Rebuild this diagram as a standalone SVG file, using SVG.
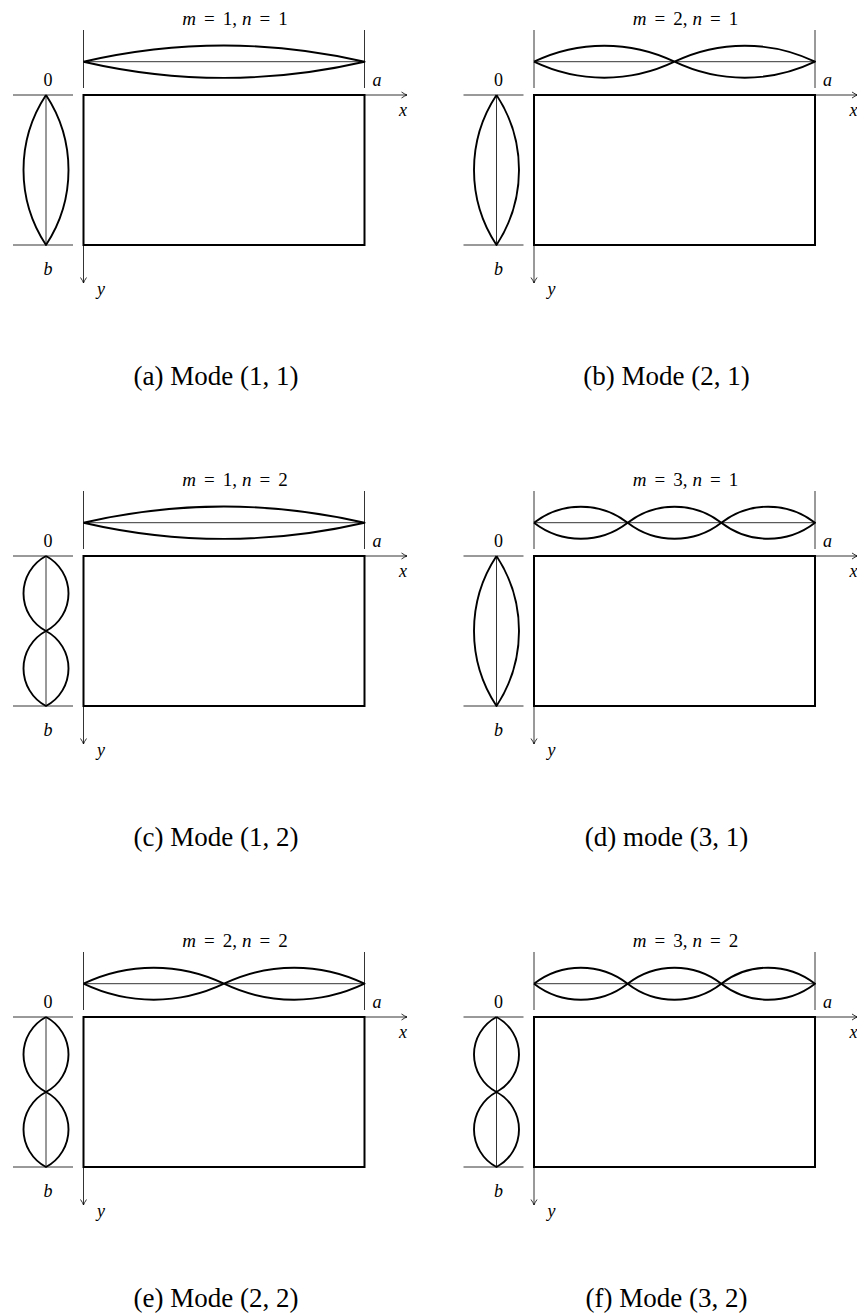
<svg xmlns="http://www.w3.org/2000/svg" width="857" height="1315" viewBox="0 0 857 1315">
<style>
.plate{fill:none;stroke:#000;stroke-width:2}
.wave{fill:none;stroke:#000;stroke-width:1.9;stroke-linejoin:round}
.thin{fill:none;stroke:#000;stroke-width:0.8}
.axis{fill:none;stroke:#000;stroke-width:0.8}
.lbl{font-family:"Liberation Serif","Times New Roman",serif;font-size:18px;fill:#000}
.it{font-style:italic}
.ttl{font-family:"Liberation Serif","Times New Roman",serif;font-size:19px;fill:#000;text-anchor:middle}
.cap{font-family:"Liberation Serif","Times New Roman",serif;font-size:27px;fill:#000;text-anchor:middle}
</style>
<defs>
<marker id="arr" viewBox="-7 -4 8 8" markerWidth="8" markerHeight="8" refX="0" refY="0" orient="auto" markerUnits="userSpaceOnUse">
<path d="M-5.5,-3 Q-2,-0.6 0,0 Q-2,0.6 -5.5,3" fill="none" stroke="#000" stroke-width="0.8"/>
</marker>
<g id="frame">
<line class="thin" x1="83.5" y1="30" x2="83.5" y2="88"/>
<line class="thin" x1="364.5" y1="30" x2="364.5" y2="88"/>
<line class="thin" x1="83.5" y1="61.7" x2="364.5" y2="61.7"/>
<line class="thin" x1="13" y1="95" x2="73" y2="95"/>
<line class="thin" x1="13" y1="245" x2="73" y2="245"/>
<line class="thin" x1="46" y1="95" x2="46" y2="245"/>
<rect class="plate" x="83.5" y="95" width="281" height="150"/>
<text class="lbl" x="48" y="86" text-anchor="middle">0</text>
<text class="lbl it" x="377" y="86" text-anchor="middle">a</text>
<text class="lbl it" x="403" y="116" text-anchor="middle">x</text>
<text class="lbl it" x="48" y="275" text-anchor="middle">b</text>
<text class="lbl it" x="101" y="295" text-anchor="middle">y</text>
</g>
<path id="m1" class="wave" d="M83.5,61.7 A624.9,624.9 0 0 1 364.5,61.7 A624.9,624.9 0 0 1 83.5,61.7"/>
<path id="m2" class="wave" d="M83.5,61.7 A162.2,162.2 0 0 1 224,61.7 A162.2,162.2 0 0 1 364.5,61.7 A162.2,162.2 0 0 1 224,61.7 A162.2,162.2 0 0 1 83.5,61.7"/>
<path id="m3" class="wave" d="M83.5,61.7 A76.5,76.5 0 0 1 177.17,61.7 A76.5,76.5 0 0 1 270.83,61.7 A76.5,76.5 0 0 1 364.5,61.7 A76.5,76.5 0 0 1 270.83,61.7 A76.5,76.5 0 0 1 177.17,61.7 A76.5,76.5 0 0 1 83.5,61.7"/>
<path id="n1" class="wave" d="M46,95 A136.25,136.25 0 0 1 46,245 A136.25,136.25 0 0 1 46,95"/>
<path id="n2" class="wave" d="M46,95 A42.5,42.5 0 0 1 46,170 A42.5,42.5 0 0 1 46,245 A42.5,42.5 0 0 1 46,170 A42.5,42.5 0 0 1 46,95"/>
</defs>

<g id="panel-a">
<use href="#frame"/><use href="#m1"/><use href="#n1"/>
<text class="ttl" x="235" y="25"><tspan class="it">m</tspan><tspan dx="8">=</tspan><tspan dx="8">1,</tspan><tspan dx="5" class="it">n</tspan><tspan dx="8">=</tspan><tspan dx="8">1</tspan></text>
<text class="cap" x="216" y="385">(a) Mode (1, 1)</text>
</g>
<g id="panel-b" transform="translate(450.5,0)">
<use href="#frame"/><use href="#m2"/><use href="#n1"/>
<text class="ttl" x="235" y="25"><tspan class="it">m</tspan><tspan dx="8">=</tspan><tspan dx="8">2,</tspan><tspan dx="5" class="it">n</tspan><tspan dx="8">=</tspan><tspan dx="8">1</tspan></text>
<text class="cap" x="216" y="385">(b) Mode (2, 1)</text>
</g>
<g id="panel-c" transform="translate(0,461)">
<use href="#frame"/><use href="#m1"/><use href="#n2"/>
<text class="ttl" x="235" y="25"><tspan class="it">m</tspan><tspan dx="8">=</tspan><tspan dx="8">1,</tspan><tspan dx="5" class="it">n</tspan><tspan dx="8">=</tspan><tspan dx="8">2</tspan></text>
<text class="cap" x="216" y="385">(c) Mode (1, 2)</text>
</g>
<g id="panel-d" transform="translate(450.5,461)">
<use href="#frame"/><use href="#m3"/><use href="#n1"/>
<text class="ttl" x="235" y="25"><tspan class="it">m</tspan><tspan dx="8">=</tspan><tspan dx="8">3,</tspan><tspan dx="5" class="it">n</tspan><tspan dx="8">=</tspan><tspan dx="8">1</tspan></text>
<text class="cap" x="216" y="385">(d) mode (3, 1)</text>
</g>
<g id="panel-e" transform="translate(0,922)">
<use href="#frame"/><use href="#m2"/><use href="#n2"/>
<text class="ttl" x="235" y="25"><tspan class="it">m</tspan><tspan dx="8">=</tspan><tspan dx="8">2,</tspan><tspan dx="5" class="it">n</tspan><tspan dx="8">=</tspan><tspan dx="8">2</tspan></text>
<text class="cap" x="216" y="385">(e) Mode (2, 2)</text>
</g>
<g id="panel-f" transform="translate(450.5,922)">
<use href="#frame"/><use href="#m3"/><use href="#n2"/>
<text class="ttl" x="235" y="25"><tspan class="it">m</tspan><tspan dx="8">=</tspan><tspan dx="8">3,</tspan><tspan dx="5" class="it">n</tspan><tspan dx="8">=</tspan><tspan dx="8">2</tspan></text>
<text class="cap" x="216" y="385">(f) Mode (3, 2)</text>
</g>

<g id="connectors">
<g id="axes-a"><line class="axis" x1="364.5" y1="95" x2="407" y2="95" marker-end="url(#arr)"/><line class="axis" x1="83.5" y1="245" x2="83.5" y2="283" marker-end="url(#arr)"/></g>
<g id="axes-b" transform="translate(450.5,0)"><line class="axis" x1="364.5" y1="95" x2="407" y2="95" marker-end="url(#arr)"/><line class="axis" x1="83.5" y1="245" x2="83.5" y2="283" marker-end="url(#arr)"/></g>
<g id="axes-c" transform="translate(0,461)"><line class="axis" x1="364.5" y1="95" x2="407" y2="95" marker-end="url(#arr)"/><line class="axis" x1="83.5" y1="245" x2="83.5" y2="283" marker-end="url(#arr)"/></g>
<g id="axes-d" transform="translate(450.5,461)"><line class="axis" x1="364.5" y1="95" x2="407" y2="95" marker-end="url(#arr)"/><line class="axis" x1="83.5" y1="245" x2="83.5" y2="283" marker-end="url(#arr)"/></g>
<g id="axes-e" transform="translate(0,922)"><line class="axis" x1="364.5" y1="95" x2="407" y2="95" marker-end="url(#arr)"/><line class="axis" x1="83.5" y1="245" x2="83.5" y2="283" marker-end="url(#arr)"/></g>
<g id="axes-f" transform="translate(450.5,922)"><line class="axis" x1="364.5" y1="95" x2="407" y2="95" marker-end="url(#arr)"/><line class="axis" x1="83.5" y1="245" x2="83.5" y2="283" marker-end="url(#arr)"/></g>
</g>
</svg>
